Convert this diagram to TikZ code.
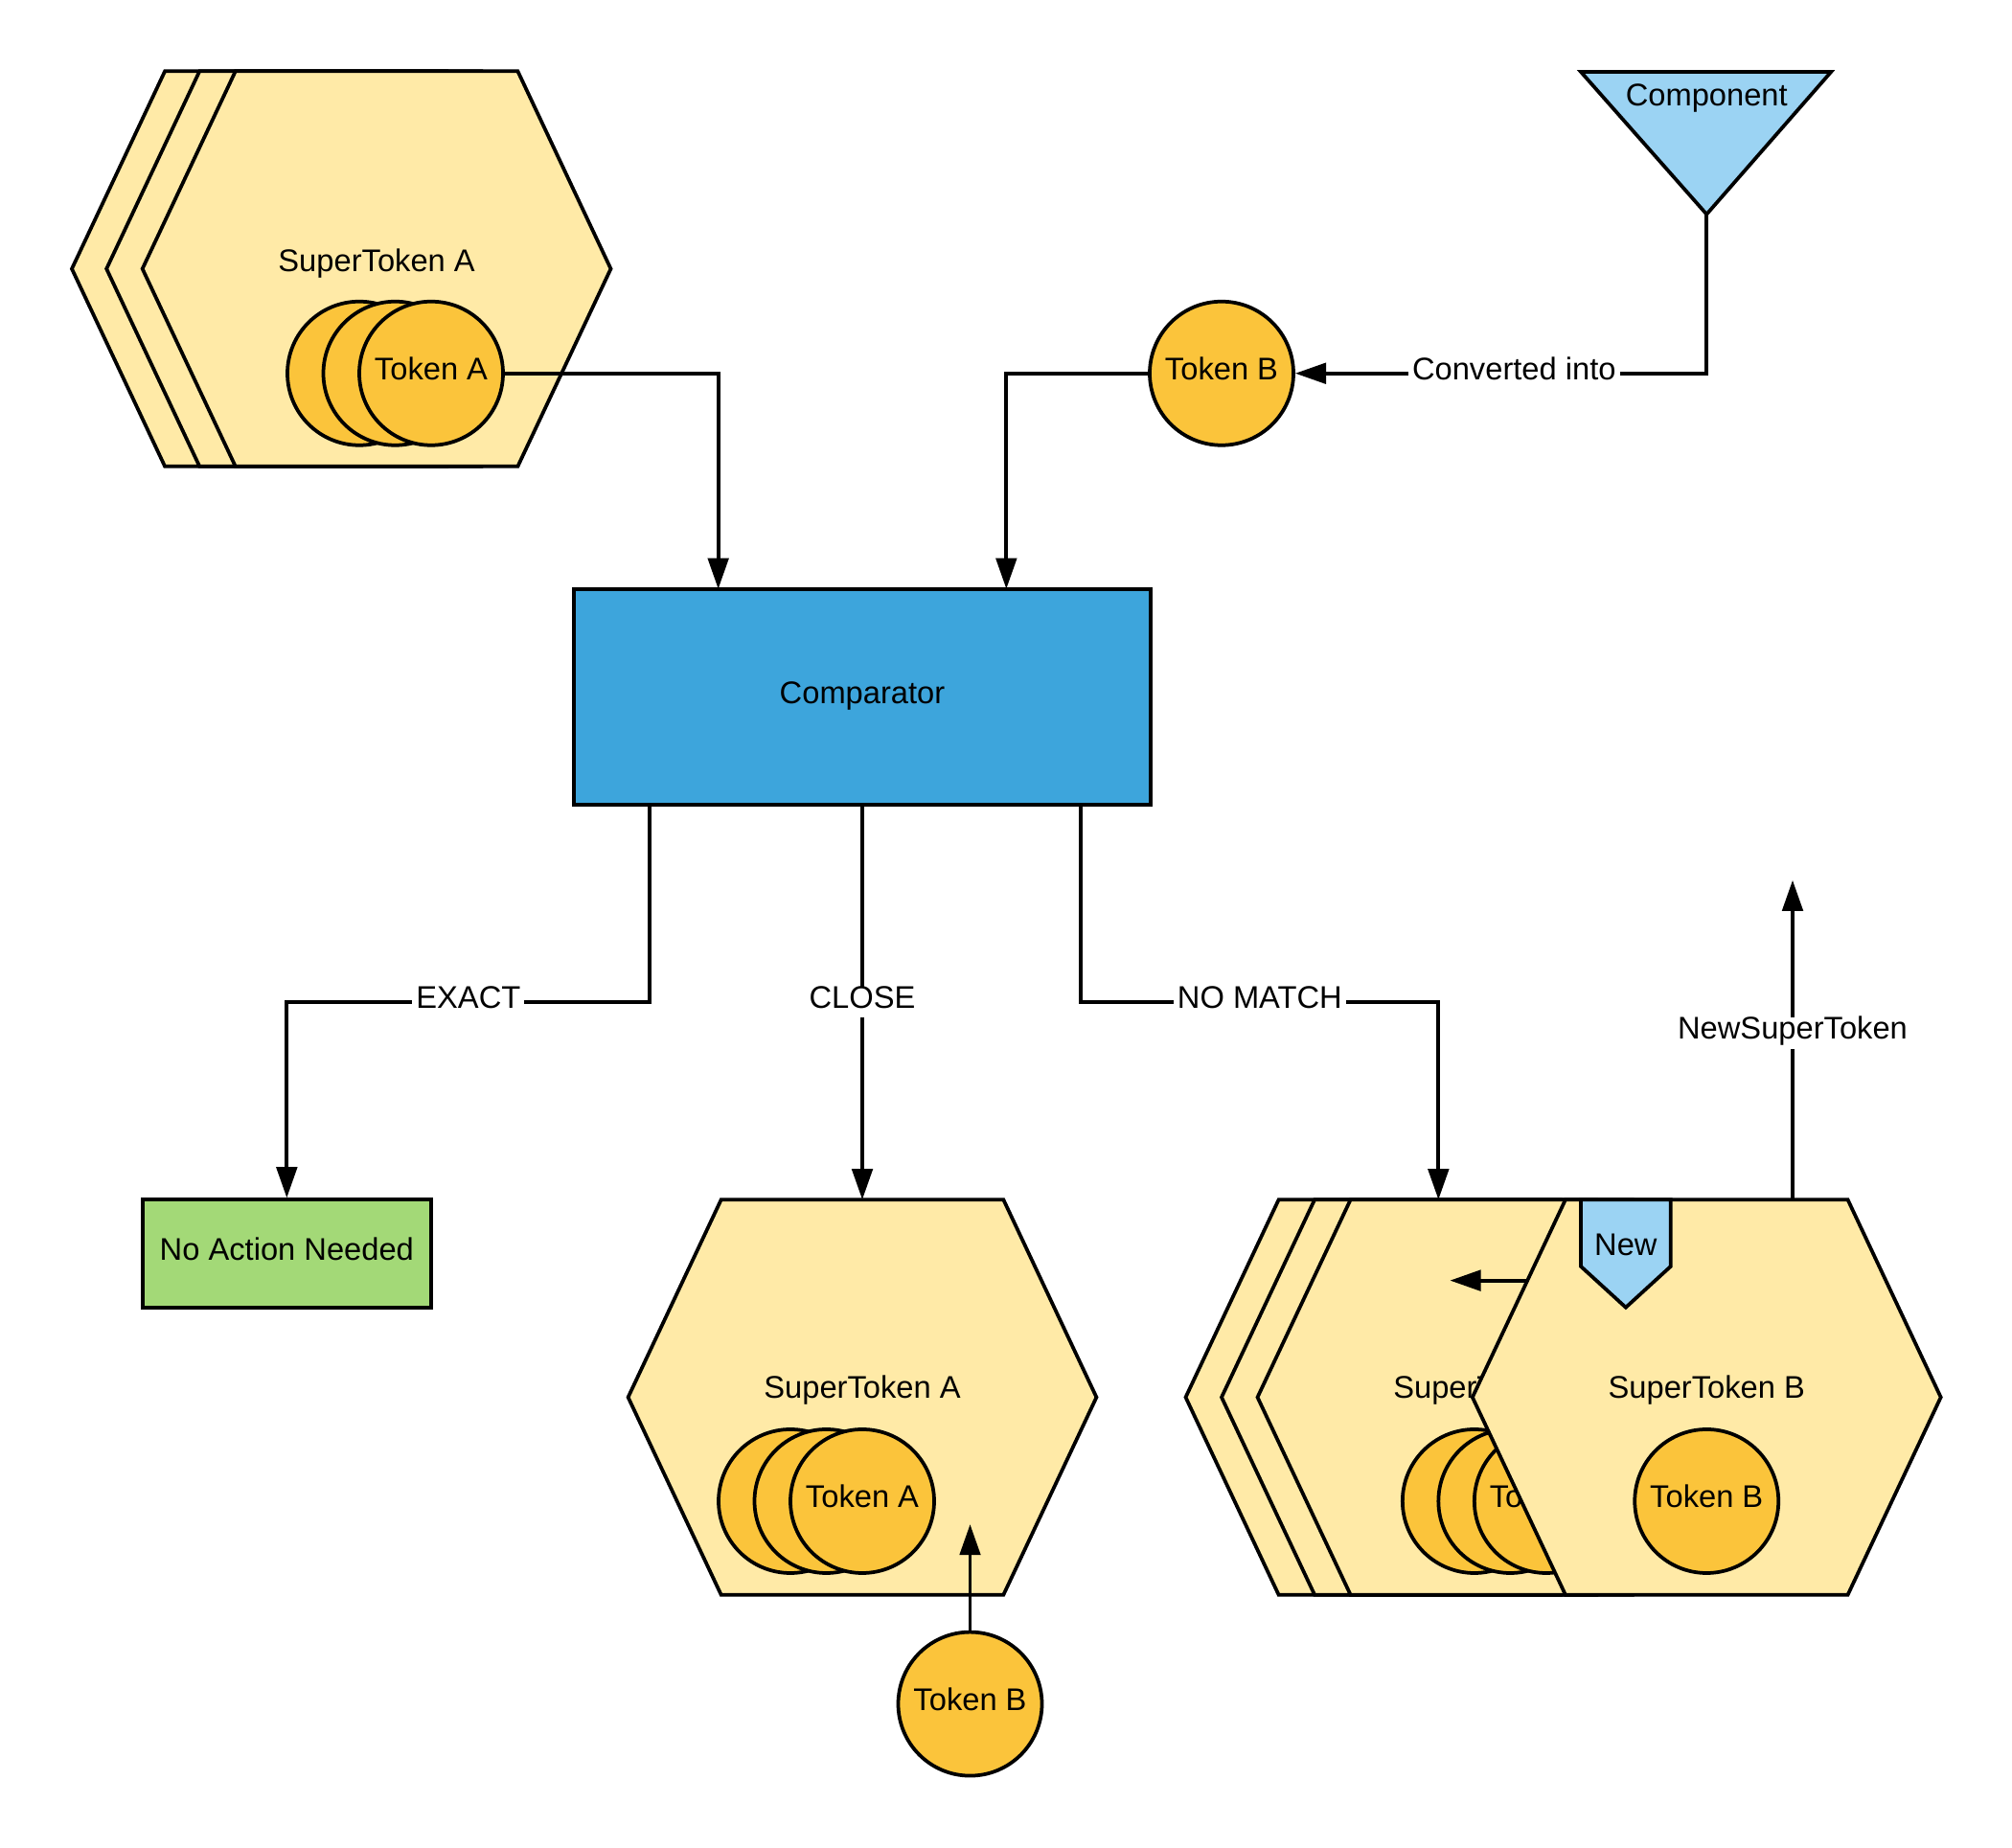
\documentclass[tikz,border=0pt]{standalone}
\usepackage{fontspec}
\setmainfont{Liberation Sans}
\usetikzlibrary{arrows.meta,calc}
\definecolor{hexY}{HTML}{FFEAA7}
\definecolor{tokY}{HTML}{FBC43B}
\definecolor{cmpB}{HTML}{3DA5DC}
\definecolor{ltB}{HTML}{9BD3F3}
\definecolor{okG}{HTML}{A3D977}
\newcommand{\HexAt}[2]{%
  \filldraw[hexfill] ({#1-182.5},#2) -- ({#1-110},{#2-154}) -- ({#1+110},{#2-154}) -- ({#1+182.5},#2) -- ({#1+110},{#2+154}) -- ({#1-110},{#2+154}) -- cycle;}
\tikzset{
  ln/.style={line width=1.4pt},
  arr/.style={ln, -{Triangle[length=12pt,width=8pt]}},
  hexfill/.style={fill=hexY, draw=black, line width=1.4pt, line join=miter},
  tok/.style={circle, draw, fill=tokY, line width=1.4pt, minimum size=56pt, inner sep=0pt},
  lab/.style={fill=white, inner sep=1.5pt},
  txt/.style={inner sep=0pt},
  every node/.style={text height=0.72em, text depth=0.21em},
}
\begin{document}
\begin{tikzpicture}[x=0.5pt,y=-0.5pt,font=\fontsize{12.2}{14}\selectfont]
\useasboundingbox (0,0) rectangle (1568,1440);

% ---------- top-left SuperToken A stack ----------
\HexAt{238.5}{209.5}
\HexAt{265.5}{209.5}
\HexAt{293.5}{209.5}
\node[txt] (stA1) at (293.5,206.5) {SuperToken A};
\node[tok] (tA1a) at (280,291) {};
\node[tok] (tA1b) at (308,291) {};
\node[tok] (tA1c) at (336,291) {Token A};

% ---------- Token B and Component ----------
\node[tok] (tB) at (952,291) {Token B};
\filldraw[fill=ltB, line width=1.4pt, line join=miter] (1232,56) -- (1427,56) -- (1330,167) -- cycle;
\node[txt] (comp) at (1330,77.5) {Component};
\coordinate (compTip) at (1330,167);

% ---------- Comparator ----------
\node[draw, fill=cmpB, line width=1.4pt, minimum width=224.5pt, minimum height=84pt, inner sep=0pt, outer sep=0pt] (cmp) at (672,543) {Comparator};

% ---------- No Action Needed ----------
\node[draw, fill=okG, line width=1.4pt, minimum width=112.5pt, minimum height=42pt, inner sep=0pt] (noact) at (223.5,977) {No Action Needed};

% ---------- bottom-middle SuperToken A ----------
\HexAt{672}{1089}
\node[txt] (stA2) at (672,1085) {SuperToken A};
\coordinate (hMtop) at (672,935);
\node[tok] (tA2a) at (616,1170) {};
\node[tok] (tA2b) at (644,1170) {};
\node[tok] (tA2c) at (672,1170) {Token A};
\node[tok] (tB2) at (756,1328) {Token B};
\coordinate (tB2in) at (756,1188);

% ---------- bottom-right SuperToken A stack ----------
\HexAt{1106.5}{1089}
\HexAt{1134.5}{1089}
\HexAt{1162.5}{1089}
\coordinate (hRtop) at (1121,935);
\node[txt] (stA3) at (1162.5,1085) {SuperToken A};
\node[tok] (tA3a) at (1149,1170) {};
\node[tok] (tA3b) at (1177,1170) {};
\node[tok] (tA3c) at (1205,1170) {Token A};

% ---------- SuperToken B ----------
\HexAt{1330}{1089}
\node[txt] (stB) at (1330,1085) {SuperToken B};
\node[tok] (tB3) at (1330,1170) {Token B};
\filldraw[fill=ltB, line width=1.4pt, line join=miter] (1232,935) -- (1302,935) -- (1302,987) -- (1267,1019) -- (1232,987) -- cycle;
\node[txt] (new) at (1267,973.5) {New};
\coordinate (smA) at (1190,998);
\coordinate (smB) at (1130,998);
\coordinate (nstStart) at (1397,935);
\coordinate (nstEnd) at (1397,686);

% ---------- connectors ----------
\draw[arr] (compTip) |- node[lab,pos=0.734]{Converted into} (tB.east);
\draw[arr] (tA1c.east) -| ($(cmp.north west)!0.25!(cmp.north east)$);
\draw[arr] (tB.west) -| ($(cmp.north west)!0.75!(cmp.north east)$);
\draw[arr] ($(cmp.south west)+(59,0)$) -- ++(0,154) -| node[lab,pos=0.25]{EXACT} (noact.north);
\draw[arr] (cmp.south) -- node[lab,pos=0.5]{CLOSE} (hMtop);
\draw[arr] ($(cmp.south east)+(-54,0)$) -- ++(0,154) -| node[lab,pos=0.25]{NO MATCH} (hRtop);
\draw[arr] (tB2.north) -- (tB2in);
\draw[arr] (smA) -- (smB);
\draw[arr] (nstStart) -- node[lab,pos=0.522]{NewSuperToken} (nstEnd);
\end{tikzpicture}
\end{document}
